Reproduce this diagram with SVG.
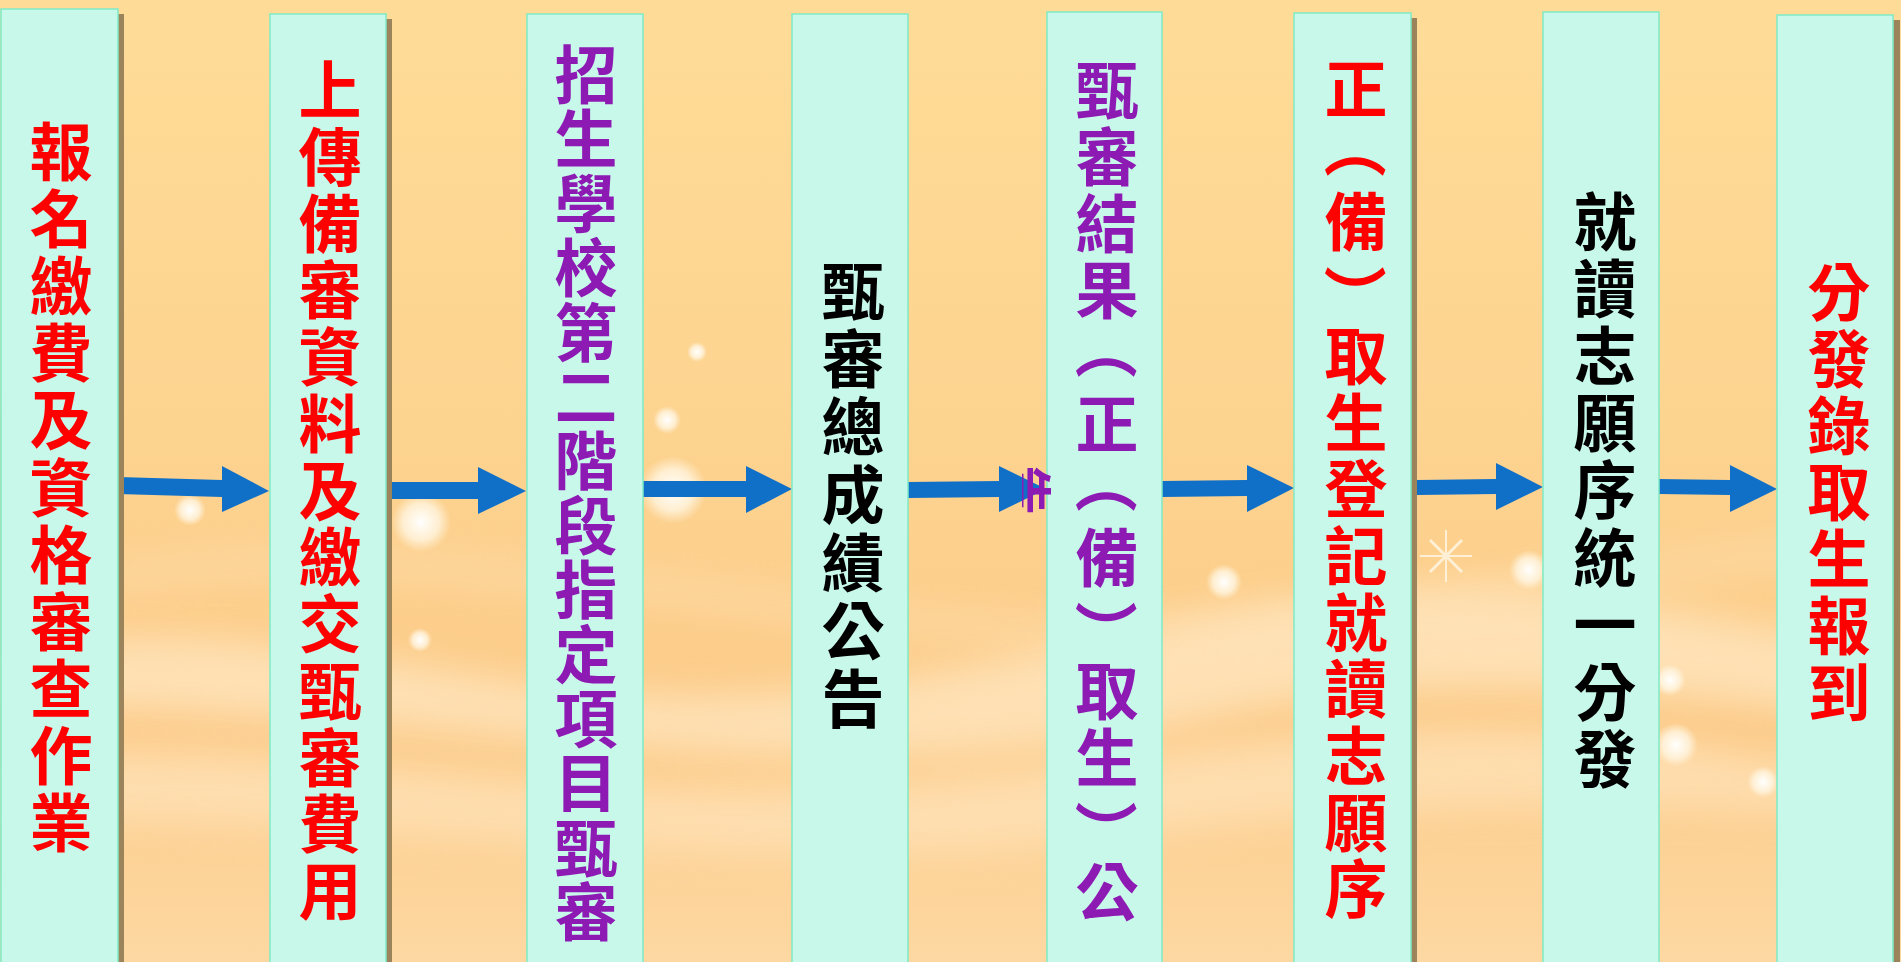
<svg xmlns="http://www.w3.org/2000/svg" width="1901" height="962" viewBox="0 0 1901 962">
<defs>
<linearGradient id="bg" x1="0" y1="0" x2="0" y2="1">
<stop offset="0" stop-color="#FEDC97"/>
<stop offset="0.45" stop-color="#FDD390"/>
<stop offset="0.75" stop-color="#FCCB89"/>
<stop offset="1" stop-color="#FDD8A2"/>
</linearGradient>
<filter id="blur20" x="-20%" y="-50%" width="140%" height="200%"><feGaussianBlur stdDeviation="18"/></filter>
<radialGradient id="bokeh">
<stop offset="0" stop-color="#FFFFFF" stop-opacity="1"/>
<stop offset="0.6" stop-color="#FFF6E2" stop-opacity="0.8"/>
<stop offset="1" stop-color="#FFF1D8" stop-opacity="0"/>
</radialGradient>
<clipPath id="overflowClip"><rect x="1022" y="440" width="60" height="100"/></clipPath>
<style>
.col{fill:#C8F8EA;stroke:#7FEAC6;stroke-width:1.5}
.shadow{fill:#9B845C}
.arrow{fill:#1070C8}
.lbl{font-family:"Noto Sans CJK TC","Noto Sans CJK SC",sans-serif;font-weight:700;font-size:63px}
.red{fill:#FF0000}
.purple{fill:#8E1AB4}
.black{fill:#000000}
</style>
</defs>

<g id="background">
<rect x="0" y="0" width="1901" height="962" fill="url(#bg)"/>
<path d="M0 650 C300 600 500 720 800 690 C1100 660 1300 560 1600 600 C1750 620 1850 650 1901 640 L1901 720 C1700 700 1450 660 1200 720 C900 790 600 740 300 720 C180 712 80 700 0 720 Z" fill="#FFE9C6" opacity="0.7" filter="url(#blur20)"/>
<path d="M0 760 C250 730 500 800 800 790 C1100 780 1350 700 1650 740 C1780 760 1860 780 1901 770 L1901 820 C1650 800 1400 800 1100 840 C800 880 400 820 0 820 Z" fill="#FFE4BC" opacity="0.7" filter="url(#blur20)"/>
<path d="M100 580 C300 540 600 580 900 620 C1200 660 1500 580 1901 540" fill="none" stroke="#FFE6C0" stroke-width="24" opacity="0.45" filter="url(#blur20)"/>
<circle cx="421" cy="522" r="30" fill="url(#bokeh)"/>
<circle cx="673" cy="490" r="34" fill="url(#bokeh)"/>
<circle cx="667" cy="420" r="14" fill="url(#bokeh)"/>
<circle cx="697" cy="352" r="10" fill="url(#bokeh)"/>
<circle cx="1224" cy="582" r="18" fill="url(#bokeh)"/>
<circle cx="1529" cy="570" r="20" fill="url(#bokeh)"/>
<circle cx="1670" cy="680" r="16" fill="url(#bokeh)"/>
<circle cx="1676" cy="745" r="22" fill="url(#bokeh)"/>
<circle cx="1763" cy="782" r="16" fill="url(#bokeh)"/>
<circle cx="190" cy="510" r="16" fill="url(#bokeh)"/>
<circle cx="420" cy="640" r="12" fill="url(#bokeh)"/>
<g stroke="#FFF8E8" stroke-width="3" opacity="0.8">
<path d="M1430 540 L1462 572 M1462 540 L1430 572"/>
<path d="M1446 530 L1446 582 M1420 556 L1472 556" stroke-width="2"/>
</g>
</g>

<g id="connectors">
<polygon class="arrow" points="118,477 222,480 222,497 118,494"/>
<polygon class="arrow" points="222,466 269,491 222,512"/>
<polygon class="arrow" points="392,482 478,482 478,499 392,499"/>
<polygon class="arrow" points="478,467 526,491 478,514"/>
<polygon class="arrow" points="643,481 746,481 746,497 643,497"/>
<polygon class="arrow" points="746,466 792,489 746,513"/>
<polygon class="arrow" points="908,482 999,481 999,497 908,498"/>
<polygon class="arrow" points="999,466 1046,489 999,512"/>
<polygon class="arrow" points="1162,481 1247,480 1247,496 1162,497"/>
<polygon class="arrow" points="1247,465 1294,488 1247,512"/>
<polygon class="arrow" points="1417,480 1496,479 1496,494 1417,495"/>
<polygon class="arrow" points="1496,463 1543,487 1496,510"/>
<polygon class="arrow" points="1659,479 1730,480 1730,495 1659,494"/>
<polygon class="arrow" points="1730,465 1777,489 1730,512"/>
</g>

<g id="n1">
<rect class="shadow" x="7" y="14" width="117" height="960"/>
<rect class="col" x="1" y="9" width="117" height="960"/>
<text class="lbl red" x="29.5 29.5 29.5 29.5 29.5 29.5 29.5 29.5 29.5 29.5 29.5" y="175 242 309 376 443 511 578 645 712 779 846">報名繳費及資格審查作業</text>
</g>
<g id="n2">
<rect class="shadow" x="276" y="19" width="116" height="960"/>
<rect class="col" x="270" y="14" width="116" height="960"/>
<text class="lbl red" x="298.5 298.5 298.5 298.5 298.5 298.5 298.5 298.5 298.5 298.5 298.5 298.5 298.5" y="113 180 247 313 380 447 514 580 647 714 781 847 914">上傳備審資料及繳交甄審費用</text>
</g>
<g id="n3">
<rect class="col" x="527" y="14" width="116" height="960"/>
<text class="lbl purple" x="554.5 554.5 554.5 554.5 554.5 554.5 554.5 554.5 554.5 554.5 554.5 554.5 554.5 554.5" y="98 162 227 291 356 420 484 549 613 678 742 806 871 935">招生學校第二階段指定項目甄審</text>
</g>
<g id="n4">
<rect class="col" x="792" y="14" width="116" height="960"/>
<text class="lbl black" x="821.5 821.5 821.5 821.5 821.5 821.5 821.5" y="314 382 450 518 586 654 722">甄審總成績公告</text>
</g>
<g id="n5">
<rect class="col" x="1047" y="12" width="115" height="960"/>
<text class="lbl purple" x="1075.5 1075.5 1075.5 1075.5 1083 1075.5 1083 1075.5 1083 1075.5 1075.5 1083 1075.5" y="113 180 247 313 316.5 447 450.5 581 600 714 781 800 915" rotate="0 0 0 0 90 0 90 0 90 0 0 90 0">甄審結果（正（備）取生）公</text>
<g clip-path="url(#overflowClip)">
<text class="purple" x="0" y="0" font-family="Noto Sans CJK TC, sans-serif" font-weight="700" font-size="50" text-anchor="middle" dominant-baseline="central" transform="translate(1030 490) rotate(90)">告</text>
</g>
</g>
<g id="n6">
<rect class="shadow" x="1300" y="18" width="117" height="960"/>
<rect class="col" x="1294" y="13" width="117" height="960"/>
<text class="lbl red" x="1324.5 1332 1324.5 1332 1324.5 1324.5 1324.5 1324.5 1324.5 1324.5 1324.5 1324.5 1324.5" y="112 115.5 245 264.5 379 446 512 579 646 712 779 846 912" rotate="0 90 0 90 0 0 0 0 0 0 0 0 0">正（備）取生登記就讀志願序</text>
</g>
<g id="n7">
<rect class="col" x="1543" y="12" width="116" height="960"/>
<text class="lbl black" x="1573.5 1573.5 1573.5 1573.5 1573.5 1573.5 1573.5 1573.5 1573.5" y="245 312 379 446 513 581 648 715 782">就讀志願序統一分發</text>
</g>
<g id="n8">
<rect class="shadow" x="1783" y="20" width="117" height="960"/>
<rect class="col" x="1777" y="15" width="116" height="960"/>
<text class="lbl red" x="1807.5 1807.5 1807.5 1807.5 1807.5 1807.5 1807.5" y="315 382 449 515 582 649 716">分發錄取生報到</text>
</g>
</svg>
